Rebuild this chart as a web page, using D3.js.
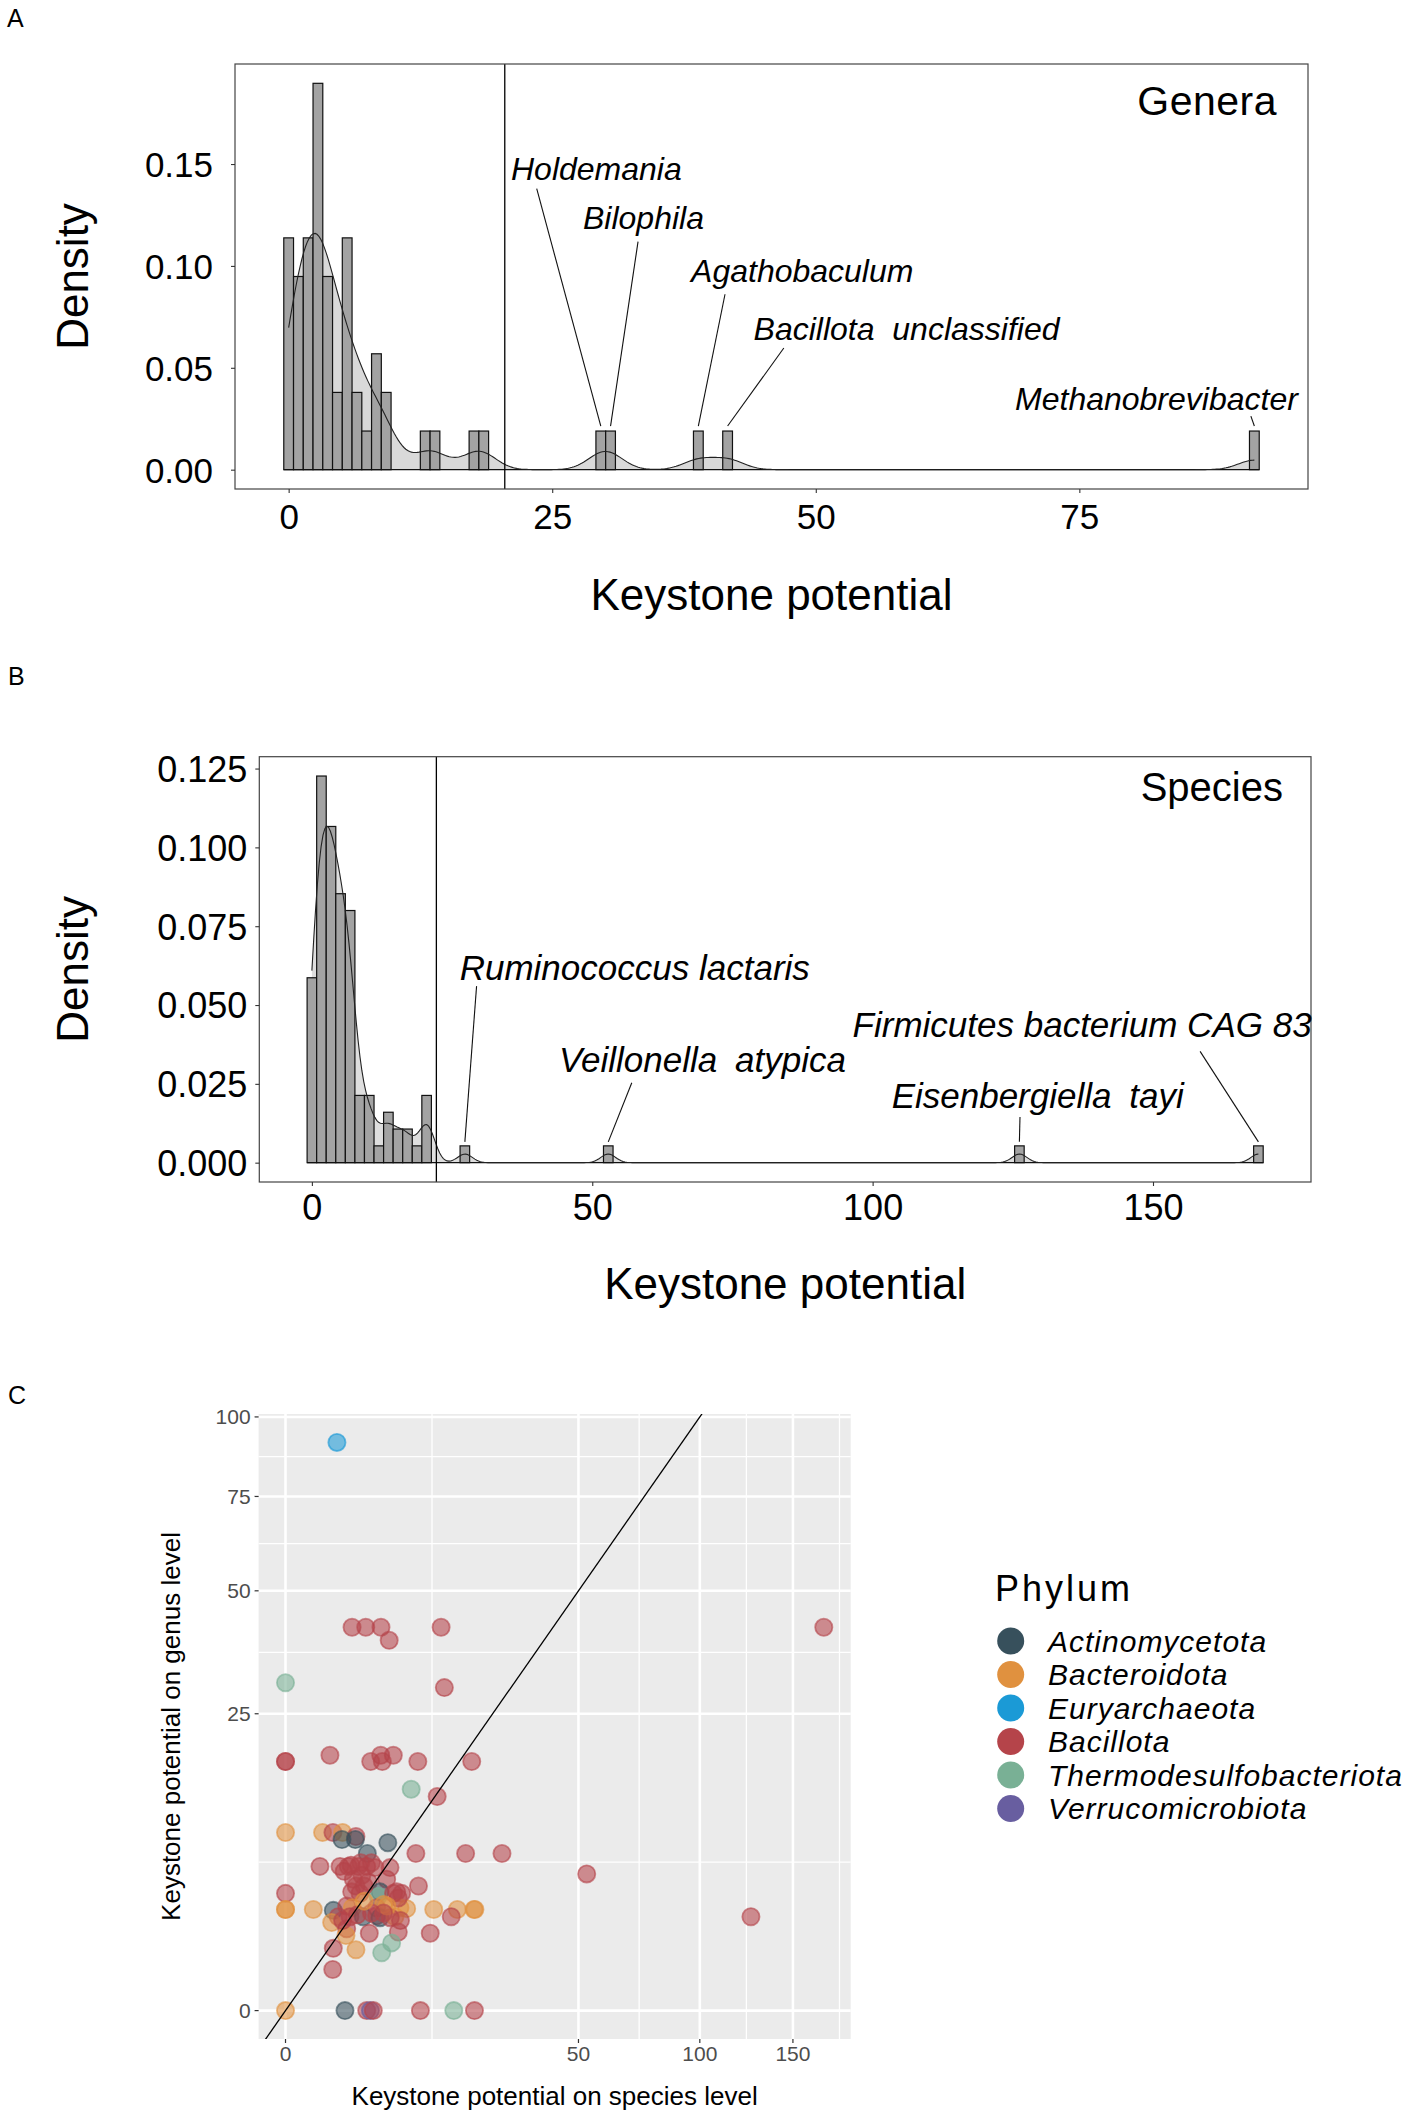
<!DOCTYPE html>
<html>
<head>
<meta charset="utf-8">
<script src="https://cdn.jsdelivr.net/npm/d3@7"></script>
<style>
  html, body { margin: 0; padding: 0; background: #ffffff; }
  svg { display: block; }
</style>
</head>
<body>
<svg id="chart" width="1418" height="2120"></svg>
<script>
// ---------------- DATA ----------------
// Panel A: keystone potential per genus (57 genera)
const genusPotential = [
  0, 0, 0, 0, 0.1, 0.3,
  0.6, 0.8, 0.9, 1.0, 1.2,
  1.5, 1.7, 1.85, 2.0, 2.1, 2.25,
  2.4, 2.5, 2.6, 2.7, 2.8, 2.8, 2.9, 3.0, 3.1, 3.2,
  3.3, 3.5, 3.7, 3.9, 4.1,
  4.4, 4.9,
  5.1, 5.3, 5.5, 5.6, 5.8, 5.9,
  6.3, 6.7,
  7.0,
  8.0, 8.3, 8.6,
  9.0, 9.5,
  12.96, 13.9, 17.6, 18.5,
  29.6, 30.5, 38.9, 41.7, 91.6
];
const genusCutoff = 20.5;
const genusLabelNames  = ["Holdemania", "Bilophila", "Agathobaculum", "Bacillota  unclassified", "Methanobrevibacter"];
const genusLabelValues = [29.6, 30.5, 38.9, 41.7, 91.6];
const genusXTicks = [0, 25, 50, 75];
const genusYTicks = [0, 0.05, 0.10, 0.15];

// Panel B: keystone potential per species (110 species)
const speciesPotential = [
  0, 0, 0, 0, 0, 0, 0, 0.1, 0.3, 0.5, 0.7,
  0.9, 1.0, 1.0, 1.1, 1.2, 1.3, 1.3, 1.4, 1.5, 1.6, 1.6, 1.7, 1.8, 1.8, 1.9, 2.0, 2.1, 2.1, 2.2, 2.3, 2.4, 2.4, 2.5,
  2.6, 2.7, 2.8, 2.9, 3.0, 3.1, 3.1, 3.2, 3.3, 3.4, 3.5, 3.5, 3.6, 3.7, 3.8, 3.9, 4.0, 4.0, 4.1, 4.2,
  4.3, 4.4, 4.5, 4.6, 4.7, 4.8, 4.9, 5.0, 5.1, 5.2, 5.3, 5.4, 5.5, 5.6, 5.8, 5.9,
  6.0, 6.1, 6.2, 6.3, 6.4, 6.5, 6.6, 6.7, 6.8, 6.9, 7.0, 7.1, 7.2, 7.4, 7.6,
  7.9, 8.3, 8.6, 9.2,
  9.8, 10.2, 10.3, 10.6,
  12.2,
  12.9, 13.4, 14.1,
  14.7, 16.0,
  16.5, 17.2,
  18.9,
  20.1, 20.7, 20.8, 20.9,
  27.3, 52.85, 126.2, 168.8
];
const speciesCutoff = 22.2;
const speciesLabelNames  = ["Ruminococcus lactaris", "Veillonella atypica", "Firmicutes bacterium CAG 83", "Eisenbergiella tayi"];
const speciesLabelValues = [27.3, 52.85, 168.8, 126.2];
const speciesXTicks = [0, 50, 100, 150];
const speciesYTicks = [0, 0.025, 0.050, 0.075, 0.100, 0.125];

// Panel C: species-level vs genus-level keystone potential, coloured by phylum
const phyla = ["Actinomycetota", "Bacteroidota", "Euryarchaeota", "Bacillota", "Thermodesulfobacteriota", "Verrucomicrobiota"];
const phylumColors = ["#37505C", "#E0913F", "#1B9AD6", "#B5444A", "#79B095", "#685EA0"];
const scatterSpecies = [
  1.54, 2.58, 3.75, 5.31, 6.26, 14.1, 168.8, 0, 14.7,
  0, 0, 1.15, 4.23, 5.28, 5.46, 6.77, 10.2, 20.2,
  9.2, 13.4,
  0, 0.80, 1.31, 1.90, 2.89, 1.86, 2.84, 6.1, 3.9, 9.9, 18.9, 27.3, 52.85, 126.2,
  0.69, 1.73, 2.30, 3.09, 3.84, 4.67, 6.36,
  2.68, 4.0, 5.96, 10.3,
  0, 2.55, 3.23, 5.2, 7.2, 7.86, 5.0,
  0, 0, 0.45, 1.33, 2.18, 2.6, 4.84, 7.63, 8.55, 12.8, 17.2, 20.7, 20.9, 16.0,
  1.62, 2.42, 3.52, 4.84, 5.2, 6.98, 6.4, 1.24,
  2.18, 2.13, 4.09, 7.41, 12.2,
  6.56, 1.33, 2.89, 5.39, 1.30,
  0, 2.06, 3.84, 4.2, 4.49, 10.6, 16.5, 20.8,
  2.0, 3.4, 4.3, 2.9, 3.6, 6.8, 7.4, 5.6, 6.0, 3.0, 4.3, 5.6, 3.6, 7.7, 1.9, 2.5, 3.3
];
const scatterGenus = [
  91.6, 41.7, 41.7, 41.7, 38.9, 41.7, 41.7, 30.5, 29.6,
  17.6, 17.6, 18.5, 17.6, 18.5, 17.6, 18.5, 17.6, 17.6,
  13.9, 13.0,
  9.0, 9.0, 9.0, 9.0, 8.6, 8.3, 8.3, 8.0, 7.0, 7.0, 7.0, 7.0, 5.3, 2.5,
  5.9, 5.9, 5.9, 5.9, 5.9, 5.8, 5.8,
  4.9, 4.7, 4.9, 4.4,
  3.9, 4.0, 3.9, 4.0, 4.0, 3.9, 3.7,
  2.9, 2.9, 2.9, 2.85, 3.1, 3.0, 3.0, 3.0, 2.95, 2.9, 2.9, 2.9, 2.9, 2.5,
  2.5, 2.5, 2.5, 2.55, 2.45, 2.5, 2.45, 2.2,
  1.9, 1.6, 1.7, 1.75, 1.7,
  1.3, 1.1, 1.05, 0.95, 0.48,
  0, 0, 0, 0, 0, 0, 0, 0,
  5.5, 5.2, 6.2, 4.4, 4.4, 3.9, 3.6, 3.2, 3.1, 2.6, 2.7, 2.7, 3.4, 2.3, 2.3, 6.0, 6.2
];
const scatterPhylum = [
  2, 3, 3, 3, 3, 3, 3, 4, 3,
  3, 3, 3, 3, 3, 3, 3, 3, 3,
  4, 3,
  1, 1, 3, 1, 3, 0, 0, 0, 0, 3, 3, 3, 3, 3,
  3, 3, 3, 3, 3, 3, 3,
  3, 3, 3, 3,
  3, 3, 3, 0, 3, 3, 4,
  1, 1, 1, 0, 3, 1, 3, 1, 1, 1, 1, 1, 1, 3,
  3, 3, 0, 3, 0, 1, 3, 1,
  3, 1, 3, 3, 3,
  4, 3, 1, 4, 3,
  1, 0, 3, 5, 3, 3, 4, 3,
  3, 3, 3, 3, 3, 3, 3, 1, 1, 3, 3, 3, 1, 3, 3, 3, 3
];
const scatterXTicks = [0, 50, 100, 150];
const scatterYTicks = [0, 25, 50, 75, 100];

// ---------------- DRAWING ----------------
const FONT = '"Liberation Sans", Arial, Helvetica, sans-serif';
const svg = d3.select("#chart");
svg.append("rect").attr("width", 1418).attr("height", 2120).attr("fill", "#fff");

function nrd0(v) {
  const s = v.slice().sort(d3.ascending);
  const sd = d3.deviation(s);
  const iqr = d3.quantileSorted(s, 0.75) - d3.quantileSorted(s, 0.25);
  return 0.9 * Math.min(sd, iqr / 1.34) * Math.pow(s.length, -0.2);
}

function txt(x, y, s, size, opts = {}) {
  const t = svg.append("text")
    .attr("x", x).attr("y", y)
    .attr("font-family", FONT)
    .attr("font-size", size)
    .attr("fill", opts.fill || "#000")
    .attr("text-anchor", opts.anchor || "start")
    .style("white-space", "pre")
    .text(s);
  if (opts.italic) t.attr("font-style", "italic");
  if (opts.rotate) t.attr("transform", `rotate(-90 ${x} ${y})`);
  if (opts.ls) t.attr("letter-spacing", opts.ls);
  if (opts.ws) t.attr("word-spacing", opts.ws);
  return t;
}

function histPanel(cfg) {
  const values = cfg.values, box = cfg.box;
  const n = values.length, nb = 100;
  const [mn, mx] = d3.extent(values);
  const w = (mx - mn) / (nb - 1);
  const lo = mn - w / 2, hi = mx + w / 2;
  const th = d3.range(1, nb).map(i => lo + i * w);
  const bins = d3.bin().domain([lo, hi]).thresholds(th)(values);
  bins.forEach(b => { b.density = b.length / (n * w); });
  const bw = nrd0(values);
  const grid = d3.range(512).map(i => mn + i * (mx - mn) / 511);
  const norm = n * bw * Math.sqrt(2 * Math.PI);
  const kde = grid.map(g => [g, d3.sum(values, v => Math.exp(-0.5 * ((g - v) / bw) ** 2)) / norm]);
  const ymax = Math.max(d3.max(bins, b => b.density), d3.max(kde, d => d[1]));
  const xr = hi - lo;
  const x = d3.scaleLinear().domain([lo - 0.05 * xr, hi + 0.05 * xr]).range([box.l, box.r]);
  const y = d3.scaleLinear().domain([-0.05 * ymax, ymax * 1.05]).range([box.b, box.t]);

  const g = svg.append("g");
  g.append("path").datum(kde)
    .attr("d", d3.area().x(d => x(d[0])).y0(y(0)).y1(d => y(d[1])))
    .attr("fill", cfg.lightFill);
  g.selectAll("rect.bar").data(bins.filter(b => b.length > 0)).join("rect")
    .attr("class", "bar")
    .attr("x", b => x(b.x0)).attr("width", b => x(b.x1) - x(b.x0))
    .attr("y", b => y(b.density)).attr("height", b => y(0) - y(b.density))
    .attr("fill", "#A3A3A3").attr("stroke", "#111").attr("stroke-width", 1.2);
  g.append("line").attr("x1", x(lo)).attr("x2", x(hi)).attr("y1", y(0)).attr("y2", y(0))
    .attr("stroke", "#111").attr("stroke-width", 1.2);
  g.append("path").datum(kde)
    .attr("d", d3.line().x(d => x(d[0])).y(d => y(d[1])))
    .attr("fill", "none").attr("stroke", "#222").attr("stroke-width", 1.1);
  g.append("line").attr("x1", x(cfg.cutoff)).attr("x2", x(cfg.cutoff)).attr("y1", box.t).attr("y2", box.b)
    .attr("stroke", "#000").attr("stroke-width", 1.3);
  g.append("rect").attr("x", box.l).attr("y", box.t).attr("width", box.r - box.l).attr("height", box.b - box.t)
    .attr("fill", "none").attr("stroke", "#444").attr("stroke-width", 1.2);

  const gx = svg.append("g").attr("transform", `translate(0,${box.b})`)
    .call(d3.axisBottom(x).tickValues(cfg.xTicks).tickSize(4).tickPadding(cfg.xPad).tickFormat(d3.format("d")));
  gx.select(".domain").remove();
  gx.selectAll("line").attr("stroke", "#333").attr("stroke-width", 1.1);
  gx.selectAll("text").attr("font-family", FONT).attr("font-size", cfg.tickSize).attr("fill", "#000");
  const gy = svg.append("g").attr("transform", `translate(${box.l},0)`)
    .call(d3.axisLeft(y).tickValues(cfg.yTicks).tickSize(4).tickPadding(cfg.yPad).tickFormat(d3.format(cfg.yFmt)));
  gy.select(".domain").remove();
  gy.selectAll("line").attr("stroke", "#333").attr("stroke-width", 1.1);
  gy.selectAll("text").attr("font-family", FONT).attr("font-size", cfg.tickSize).attr("fill", "#000").attr("dy", "0.36em");

  txt((box.l + box.r) / 2, cfg.xTitleY, "Keystone potential", cfg.axisSize, { anchor: "middle" });
  txt(88, (box.t + box.b) / 2, "Density", cfg.axisSize, { anchor: "middle", rotate: true });
  txt(box.r - cfg.tagDx, box.t + cfg.tagDy, cfg.tag, cfg.tagSize, { anchor: "end", ls: cfg.tagLs });

  cfg.labels.forEach((name, i) => {
    const v = cfg.labelValues[i];
    const lay = cfg.layout[i];
    const bin = bins.find(b => v >= b.x0 && v < b.x1) || bins[bins.length - 1];
    const bx = (bin.x0 + bin.x1) / 2;
    svg.append("line")
      .attr("x1", x(lay.sx)).attr("y1", y(lay.sy))
      .attr("x2", x(bx)).attr("y2", y(bin.density) - cfg.gap)
      .attr("stroke", "#111").attr("stroke-width", 1.1);
    txt(x(lay.lx), y(lay.ly), name, cfg.labelSize, { italic: true, ws: lay.ws });
  });
}

// Panel A
txt(7, 27, "A", 25);
histPanel({
  values: genusPotential, cutoff: genusCutoff,
  box: { l: 235, r: 1308, t: 64, b: 489 },
  xTicks: genusXTicks, yTicks: genusYTicks, yFmt: ".2f",
  xPad: 11, yPad: 18, tickSize: 35, axisSize: 44, xTitleY: 610,
  tag: "Genera", tagSize: 41, tagDx: 31, tagDy: 51, tagLs: 0.5,
  lightFill: "#D9D9D9", gap: 5, labelSize: 32,
  labels: genusLabelNames, labelValues: genusLabelValues,
  layout: [
    { lx: 21.09, ly: 0.1421, sx: 23.53, sy: 0.1379 },
    { lx: 27.92, ly: 0.1182, sx: 33.14, sy: 0.1119 },
    { lx: 38.17, ly: 0.0922, sx: 41.39, sy: 0.0861 },
    { lx: 44.10, ly: 0.0636, sx: 46.97, sy: 0.0597 },
    { lx: 68.90, ly: 0.0292, sx: 91.27, sy: 0.0263 }
  ]
});

// Panel B
txt(8, 685, "B", 25);
histPanel({
  values: speciesPotential, cutoff: speciesCutoff,
  box: { l: 259.3, r: 1311, t: 756.7, b: 1182 },
  xTicks: speciesXTicks, yTicks: speciesYTicks, yFmt: ".3f",
  xPad: 8, yPad: 8, tickSize: 36, axisSize: 44, xTitleY: 1299,
  tag: "Species", tagSize: 40, tagDx: 28, tagDy: 44, tagLs: 0,
  lightFill: "#DEDEDE", gap: 4, labelSize: 35,
  labels: speciesLabelNames, labelValues: speciesLabelValues,
  layout: [
    { lx: 26.36, ly: 0.0580, sx: 29.37, sy: 0.0560, ws: 0 },
    { lx: 44.07, ly: 0.02877, sx: 57.05, sy: 0.02534, ws: 8 },
    { lx: 96.43, ly: 0.0400, sx: 158.4, sy: 0.0353, ws: 0 },
    { lx: 103.39, ly: 0.01735, sx: 126.28, sy: 0.0145, ws: 8 }
  ]
});

// Panel C
txt(8, 1404, "C", 25);
(function scatterPanel() {
  const box = { l: 258.6, r: 850.7, t: 1414, b: 2039 };
  const sxMax = Math.sqrt(d3.max(scatterSpecies));
  const syMax = Math.sqrt(d3.max(scatterGenus));
  const xs = d3.scaleLinear().domain([-0.05 * sxMax, 1.05 * sxMax]).range([box.l, box.r]);
  const ys = d3.scaleLinear().domain([-0.05 * syMax, 1.05 * syMax]).range([box.b, box.t]);
  const X = v => xs(Math.sqrt(v)), Y = v => ys(Math.sqrt(v));

  const g = svg.append("g");
  g.append("rect").attr("x", box.l).attr("y", box.t).attr("width", box.r - box.l).attr("height", box.b - box.t)
    .attr("fill", "#EBEBEB");

  function minors(majT, dom) {
    const out = [];
    const b = majT.slice();
    const d0 = b[1] - b[0], d1 = b[b.length - 1] - b[b.length - 2];
    const ext = [b[0] - d0].concat(b, [b[b.length - 1] + d1]);
    for (let i = 0; i < ext.length - 1; i++) {
      const m = (ext[i] + ext[i + 1]) / 2;
      if (m >= dom[0] && m <= dom[1]) out.push(m);
    }
    return out;
  }
  const xMajT = scatterXTicks.map(Math.sqrt), yMajT = scatterYTicks.map(Math.sqrt);
  minors(xMajT, xs.domain()).forEach(t => g.append("line").attr("x1", xs(t)).attr("x2", xs(t)).attr("y1", box.t).attr("y2", box.b).attr("stroke", "#fff").attr("stroke-width", 1.3));
  minors(yMajT, ys.domain()).forEach(t => g.append("line").attr("y1", ys(t)).attr("y2", ys(t)).attr("x1", box.l).attr("x2", box.r).attr("stroke", "#fff").attr("stroke-width", 1.3));
  xMajT.forEach(t => g.append("line").attr("x1", xs(t)).attr("x2", xs(t)).attr("y1", box.t).attr("y2", box.b).attr("stroke", "#fff").attr("stroke-width", 2.6));
  yMajT.forEach(t => g.append("line").attr("y1", ys(t)).attr("y2", ys(t)).attr("x1", box.l).attr("x2", box.r).attr("stroke", "#fff").attr("stroke-width", 2.6));

  const pts = scatterSpecies.map((s, i) => ({ s, gv: scatterGenus[i], p: scatterPhylum[i] }));
  g.selectAll("circle.pt").data(pts).join("circle")
    .attr("class", "pt")
    .attr("cx", d => X(d.s)).attr("cy", d => Y(d.gv)).attr("r", 8.6)
    .attr("fill", d => phylumColors[d.p]).attr("fill-opacity", 0.58)
    .attr("stroke", d => phylumColors[d.p]).attr("stroke-opacity", 0.62).attr("stroke-width", 1.8);

  svg.append("clipPath").attr("id", "cclip").append("rect")
    .attr("x", box.l).attr("y", box.t).attr("width", box.r - box.l).attr("height", box.b - box.t);
  const xd = xs.domain();
  g.append("line").attr("clip-path", "url(#cclip)")
    .attr("x1", xs(xd[0])).attr("y1", ys(xd[0])).attr("x2", xs(xd[1])).attr("y2", ys(xd[1]))
    .attr("stroke", "#000").attr("stroke-width", 1.3);

  scatterXTicks.forEach(v => {
    svg.append("line").attr("x1", X(v)).attr("x2", X(v)).attr("y1", box.b).attr("y2", box.b + 4).attr("stroke", "#333").attr("stroke-width", 1.2);
    txt(X(v), box.b + 22, String(v), 21, { anchor: "middle", fill: "#4D4D4D" });
  });
  scatterYTicks.forEach(v => {
    svg.append("line").attr("x1", box.l - 4).attr("x2", box.l).attr("y1", Y(v)).attr("y2", Y(v)).attr("stroke", "#333").attr("stroke-width", 1.2);
    txt(box.l - 8, Y(v) + 7.5, String(v), 21, { anchor: "end", fill: "#4D4D4D" });
  });
  txt((box.l + box.r) / 2, 2105, "Keystone potential on species level", 26, { anchor: "middle" });
  txt(180, (box.t + box.b) / 2, "Keystone potential on genus level", 26, { anchor: "middle", rotate: true });

  txt(995, 1601, "Phylum", 36, { ls: 3 });
  phyla.forEach((p, i) => {
    const cy = 1641 + i * 33.5;
    svg.append("circle").attr("cx", 1010.7).attr("cy", cy).attr("r", 13.5).attr("fill", phylumColors[i]);
    txt(1048, cy + 10.7, p, 30, { italic: true, ls: 1 });
  });
})();
</script>
</body>
</html>
